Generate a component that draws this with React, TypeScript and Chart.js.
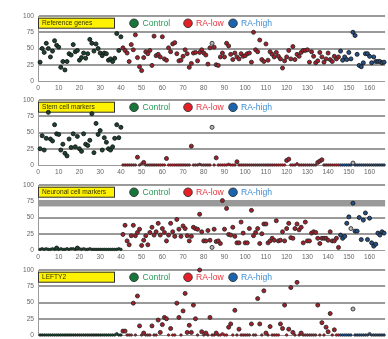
import React, { useEffect, useRef } from "react";
import { Chart, registerables } from "chart.js";
Chart.register(...registerables);

const panelTitles = ["Reference genes", "Stem cell markers", "Neuronal cell markers", "LEFTY2"];
const legendLabels = ["Control", "RA-low", "RA-high"];
const yTickValues = [0, 25, 50, 75, 100];
const xTickValues = [0, 10, 20, 30, 40, 50, 60, 70, 80, 90, 100, 110, 120, 130, 140, 150, 160];
const controlStart = 1;
const lowStart = 41;
const highStart = 146;

// Reference genes
const refControl = [29,50,44,58,50,37,46,62,55,52, 21,30,17,30,42,40,56,45,47,32, 36,43,35,42,64,58,46,57,50,43, 39,43,42,32,34,30,35,73,47,68];
const refLow = [51,47,43,30,56,48,71,36,22,16, 36,45,42,47,24,69,39,41,37,68, 34,32,51,45,57,59,42,31,32,38, 48,42,21,27,43,44,31,44,48,43, 40,26,51,null,52,25,24,37,43,37, 58,54,41,33,43,37,34,42,38,39, 42,43,29,75,48,45,63,33,30,57, 32,45,41,37,44,38,34,20,31,37, 47,34,53,33,41,38,44,47,47,48, 29,45,38,28,31,44,37,29,34,43, 33,30,38,34,37];
const refHigh = [46,32,37,33,44,34,75,70,41,24, 22,28,42,42,38,28,37,30,30,30, 28,29];
const refGrey = [[84, 58]];

// Stem cell markers
const stemControl = [25,45,23,41,81,40,37,62,48,47, 23,32,18,14,40,27,48,28,44,25, 21,48,32,30,38,79,19,64,47,53, 23,42,35,25,23,28,41,62,42,58];
const stemLow = [0,0,0,0,0,0,0,12,0,2, 4,0,0,0,0,0,0,0,0,0, 0,10,0,0,0,0,0,0,0,0, 0,0,0,29,0,0,0,1,0,0, 0,0,0,null,0,11,0,0,0,0, 0,1,0,0,0,5,0,0,0,0, 0,0,0,0,0,0,0,0,0,0, 0,0,0,0,0,0,0,0,0,7, 9,0,0,0,2,0,0,0,0,0, 0,0,0,0,4,6,8,0,0,0, 0,0,0,0,0];
const stemHigh = [0,0,0,0,0,0,null,0,0,0, 0,0,0,0,0,0,0,0,0,0, 0,0];
const stemGrey = [[84, 58], [152, 3]];

// Neuronal cell markers
const neuroControl = [1,2,1,2,1,1,2,1,3,1, 2,1,1,2,1,2,2,1,3,2, 1,2,1,1,2,1,1,1,1,1, 1,1,1,1,1,1,1,1,2,1];
const neuroLow = [24,38,14,8,22,38,22,27,32,7, 15,22,8,27,35,23,28,41,23,33, 27,14,23,41,28,21,47,32,21,37, 33,22,14,21,35,33,32,55,28,14, 14,30,15,null,32,13,14,10,76,32, 64,24,23,35,21,11,11,43,26,11, 11,33,61,22,27,33,10,25,40,40, 11,14,18,15,45,14,15,28,14,33, 41,19,18,33,40,31,35,11,43,14, 14,26,28,27,18,10,18,18,18,15, 28,14,14,18,4];
const neuroHigh = [23,18,21,41,51,null,72,29,29,50, 16,46,57,16,49,11,6,9,26,23, 28,26];
const neuroGrey = [[84, 4], [151, 33]];
const neuroBand = [67, 75.5];

// LEFTY2
const leftyControl = [0,0,0,0,0,0,0,0,0,0, 0,0,0,0,0,0,0,0,0,0, 0,0,0,0,0,0,0,0,0,0, 0,0,0,0,0,0,0,2,0,0];
const leftyLow = [6,6,0,0,0,49,0,60,14,0, 3,0,0,0,14,0,0,23,4,16, 27,25,0,10,0,0,49,27,0,37, 64,4,15,4,46,25,0,100,5,0, 3,0,27,0,0,3,0,0,2,0, 0,12,17,0,38,0,9,0,0,0, 0,0,17,0,0,56,17,0,68,3, 0,13,0,0,0,0,17,10,46,0, 9,73,4,0,81,0,3,0,0,0, 0,0,0,0,46,0,19,0,12,5, 33,0,8,0,0];
const leftyHigh = [0,0,0,0,0,0,null,0,0,0, 0,0,0,0,2,0,0,0,0,0, 0,0];
const leftyGrey = [[152, 40]];

const panels = [
  { title: panelTitles[0], control: refControl, low: refLow, high: refHigh, grey: refGrey, band: null },
  { title: panelTitles[1], control: stemControl, low: stemLow, high: stemHigh, grey: stemGrey, band: null },
  { title: panelTitles[2], control: neuroControl, low: neuroLow, high: neuroHigh, grey: neuroGrey, band: neuroBand },
  { title: panelTitles[3], control: leftyControl, low: leftyLow, high: leftyHigh, grey: leftyGrey, band: null },
];

const panelTops = [0, 84, 169, 254];
const CANVAS_H = 95;
const FONT = '"Liberation Sans", Arial, sans-serif';

const toPoints = (vals: (number | null)[], start: number) =>
  vals.map((v, i) => (v === null ? null : { x: start + i, y: v })).filter(Boolean) as { x: number; y: number }[];

const radiusFn = (c: any) => (c.raw && c.raw.y < 3 ? 1.3 : 2.0);
const borderFn = (c: any) => (c.raw && c.raw.y < 3 ? 0.6 : 0.9);

const legendItems = [
  { label: legendLabels[0], fill: "#17773b", text: "#2a9b57", cx: 134, tx: 142.5 },
  { label: legendLabels[1], fill: "#e41f26", text: "#e8333b", cx: 188, tx: 196 },
  { label: legendLabels[2], fill: "#1b64b0", text: "#3f8fd3", cx: 233, tx: 241 },
];

const overlayPlugin = {
  id: "overlay",
  beforeDatasetsDraw(chart: any, _args: any, opts: any) {
    const { ctx, chartArea, scales } = chart;
    const left = chartArea.left;
    const top = chartArea.top;
    ctx.save();
    if (opts.band) {
      const yA = scales.y.getPixelForValue(opts.band[1]);
      const yB = scales.y.getPixelForValue(opts.band[0]);
      ctx.fillStyle = "#999999";
      ctx.fillRect(left, yA, chartArea.right - left, yB - yA);
    }
    // title box
    ctx.fillStyle = "#fff200";
    ctx.fillRect(left, top + 1.7, 76.5, 10.6);
    ctx.strokeStyle = "#333333";
    ctx.lineWidth = 1;
    ctx.strokeRect(left + 0.5, top + 2.2, 76, 10);
    ctx.fillStyle = "#333300";
    ctx.font = `6.6px ${FONT}`;
    ctx.textBaseline = "middle";
    ctx.textAlign = "left";
    ctx.fillText(opts.title, left + 4, top + 7.4);
    // legend
    ctx.font = `8.6px ${FONT}`;
    for (const it of legendItems) {
      ctx.beginPath();
      ctx.arc(it.cx, top + 7.3, 4.3, 0, Math.PI * 2);
      ctx.fillStyle = it.fill;
      ctx.fill();
      ctx.strokeStyle = "#333333";
      ctx.lineWidth = 0.9;
      ctx.stroke();
      ctx.fillStyle = it.text;
      ctx.fillText(it.label, it.tx, top + 7.6);
    }
    ctx.restore();
  },
};

function Panel({ idx }: { idx: number }) {
  const ref = useRef<HTMLCanvasElement>(null);
  useEffect(() => {
    const p = panels[idx];
    const mk = (label: string, data: any[], fill: string, border: string) => ({
      label,
      data,
      backgroundColor: fill,
      borderColor: border,
      pointRadius: radiusFn,
      pointBorderWidth: borderFn,
      pointHoverRadius: radiusFn,
      showLine: false,
      clip: false as any,
    });
    const chart = new Chart(ref.current as HTMLCanvasElement, {
      type: "scatter",
      data: {
        datasets: [
          mk(legendLabels[0], toPoints(p.control, controlStart), "#1b4530", "#151515"),
          mk(legendLabels[1], toPoints(p.low, lowStart), "#a51e28", "#2a2a2a"),
          mk(legendLabels[2], toPoints(p.high, highStart), "#23518a", "#1a1a1a"),
          mk("other", p.grey.map(([x, y]) => ({ x, y })), "#b5b5b5", "#333333"),
        ],
      },
      options: {
        animation: false,
        responsive: false,
        maintainAspectRatio: false,
        events: [],
        layout: { padding: { top: 16, left: 0, right: 0, bottom: 0 } },
        plugins: {
          legend: { display: false },
          tooltip: { enabled: false },
          overlay: { title: p.title, band: p.band },
        } as any,
        scales: {
          x: {
            type: "linear",
            min: 0,
            max: 167.5,
            afterBuildTicks: (s: any) => {
              s.ticks = xTickValues.map((v) => ({ value: v }));
            },
            afterFit: (s: any) => {
              s.height = CANVAS_H - 81;
              s.paddingLeft = 0;
              s.paddingRight = 0;
            },
            ticks: {
              font: { family: FONT, size: 6.6 },
              color: "#666666",
              padding: 3,
              maxRotation: 0,
              autoSkip: false,
            },
            grid: { display: false, drawTicks: false },
            border: { display: false },
          },
          y: {
            type: "linear",
            min: 0,
            max: 100,
            afterBuildTicks: (s: any) => {
              s.ticks = yTickValues.map((v) => ({ value: v }));
            },
            afterFit: (s: any) => {
              s.width = 38;
              s.paddingTop = 0;
              s.paddingBottom = 0;
            },
            ticks: {
              font: { family: FONT, size: 6.6 },
              color: "#666666",
              padding: 4,
            },
            grid: {
              color: "#9a9a9a",
              lineWidth: (c: any) => (c.tick && c.tick.value === 0 ? 1 : 2),
              drawTicks: false,
            },
            border: { display: true, color: "#9a9a9a", width: 1 },
          },
        },
      },
      plugins: [overlayPlugin],
    });
    return () => chart.destroy();
  }, [idx]);
  return (
    <canvas
      ref={ref}
      width={388}
      height={CANVAS_H}
      style={{ position: "absolute", left: 0, top: panelTops[idx], width: 388, height: CANVAS_H }}
    />
  );
}

export default function App() {
  return (
    <div
      style={{
        position: "fixed",
        left: 0,
        top: 0,
        width: 388,
        height: 339,
        overflow: "hidden",
        background: "#ffffff",
      }}
    >
      {panels.map((_, i) => (
        <Panel key={i} idx={i} />
      ))}
    </div>
  );
}
